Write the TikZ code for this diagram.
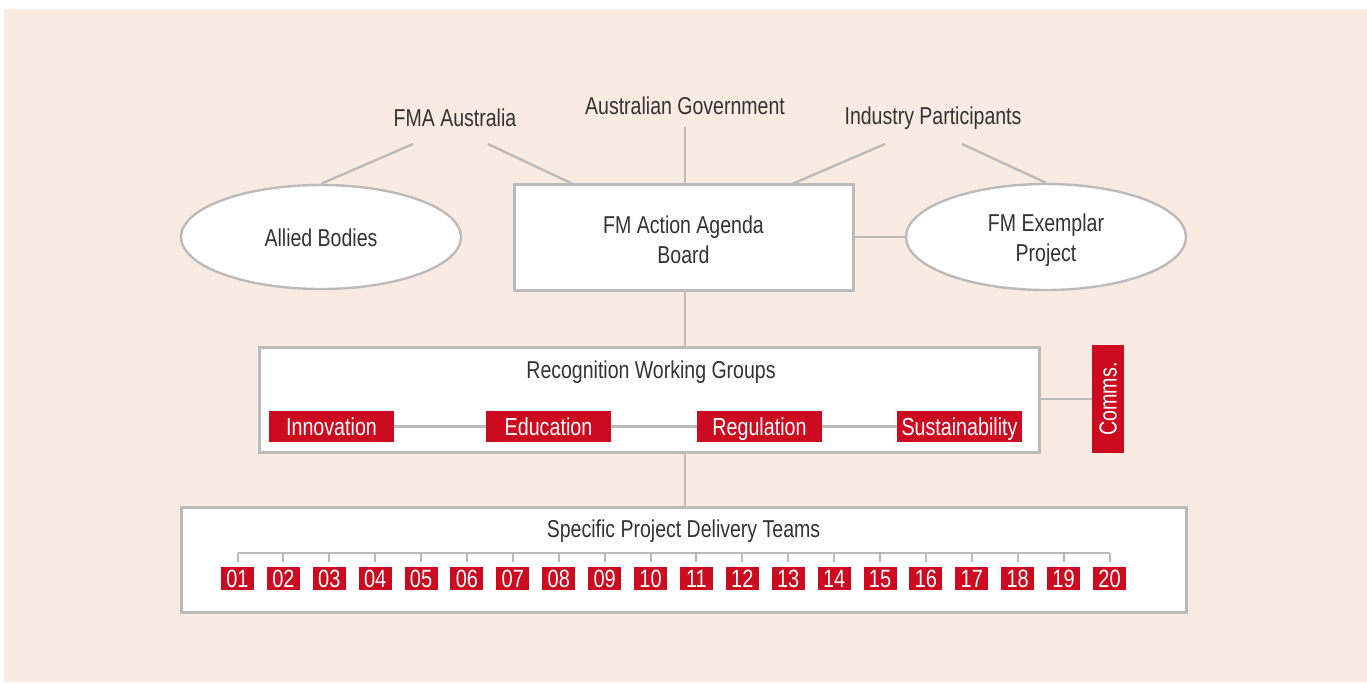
\documentclass[tikz,border=0pt]{standalone}
\usepackage{fontspec}
\setmainfont{Liberation Sans}[FakeStretch=0.8]
\usetikzlibrary{shapes.geometric,calc}
\definecolor{bgc}{HTML}{FAEBE2}
\definecolor{redc}{HTML}{CC0A20}
\definecolor{linec}{HTML}{BBBBBB}
\definecolor{txtc}{HTML}{333333}
\tikzset{
  conn/.style={draw=linec, line width=1.2pt},
  wbox/.style={draw=linec, line width=1.5pt, fill=white, rectangle, inner sep=0pt},
  wellipse/.style={draw=linec, line width=1.2pt, fill=white, ellipse, inner sep=0pt, minimum width=140pt, minimum height=52pt},
  lbl/.style={text=txtc, font=\fontsize{12.2}{15}\selectfont, inner sep=0pt},
  redbox/.style={fill=redc, text=white, inner sep=0pt, minimum width=62.5pt, minimum height=15.5pt, text height=8.6pt, text depth=0pt, font=\fontsize{12.3}{13}\selectfont},
  numbox/.style={fill=redc, text=white, inner sep=0pt, minimum width=16.5pt, minimum height=11.5pt, text height=9pt, text depth=0pt, font=\fontsize{12.5}{13}\selectfont}
}
\begin{document}
\begin{tikzpicture}[x=0.5pt,y=-0.5pt]
\useasboundingbox (0,0) rectangle (1367,682);
\fill[bgc] (4,9) rectangle (1367,682);

% top labels
\node[lbl] (fma) at (455,118) {FMA Australia};
\node[lbl] (gov) at (685,106) {Australian Government};
\node[lbl] (ind) at (933,118) {Industry Participants};

% main shapes
\node[wellipse] (allied) at (321,237) {};
\node[lbl] at (321,238) {Allied Bodies};
\node[wbox, minimum width=169.5pt, minimum height=53pt] (board) at (683.5,237) {};
\node[lbl, align=center] at (683.5,240) {FM Action Agenda\\Board};
\node[wellipse, minimum height=53pt] (exemplar) at (1046,237) {};
\node[lbl, align=center] at (1046,240) {FM Exemplar\\Project};

% connector coordinates
\coordinate (fmaL) at (413,144);
\coordinate (fmaR) at (488,144);
\coordinate (govB) at (685,127);
\coordinate (indL) at (885,144);
\coordinate (indR) at (962,144);
\coordinate (boardTL) at (573,184);
\coordinate (boardTR) at (792,184);
\coordinate (boardTM) at (685,184);

\draw[conn] (fmaL) -- (allied.north);
\draw[conn] (fmaR) -- (boardTL);
\draw[conn] (govB) -- (boardTM);
\draw[conn] (indL) -- (boardTR);
\draw[conn] (indR) -- (exemplar.north);
\draw[conn] (board.east) -- (exemplar.west);

% recognition working groups
\node[wbox, minimum width=390pt, minimum height=52.5pt] (rwg) at (649,399.5) {};
\node[lbl] (rwgt) at (651,372) {Recognition Working Groups};
\draw[conn] (685,290) coordinate (bB) -- (685,347) coordinate (rT);
\node[redbox] (inn) at (331.5,426.5) {Innovation};
\node[redbox] (edu) at (548.5,426.5) {Education};
\node[redbox] (reg) at (759.5,426.5) {Regulation};
\node[redbox] (sus) at (959.5,426.5) {Sustainability};
\draw[conn] (inn.east) -- (edu.west);
\draw[conn] (edu.east) -- (reg.west);
\draw[conn] (reg.east) -- (sus.west);

\node[fill=redc, text=white, inner sep=0pt, rotate=90, minimum width=54pt, minimum height=16pt, text height=8.6pt, text depth=0pt, font=\fontsize{12.3}{13}\selectfont] (comms) at (1108,399) {Comms.};
\draw[conn] (rwg.east |- comms.center) -- (comms.north);

% delivery teams
\node[wbox, minimum width=502.5pt, minimum height=52.5pt] (spdt) at (683.5,559.5) {};
\node[lbl] (spdtt) at (683.5,531) {Specific Project Delivery Teams};
\draw[conn] (685,452) coordinate (rB) -- (685,507) coordinate (sT);

\coordinate (brL) at (237.5,553);
\coordinate (brR) at (1109.5,553);
\draw[draw=linec, line width=1pt] (brL) -- (brR);
\foreach \i in {1,...,20}{
  \pgfmathsetmacro{\xx}{237.5+45.895*(\i-1)}
  \pgfmathtruncatemacro{\ii}{\i}
  \node[numbox] (n\ii) at (\xx,578.5) {\ifnum\ii<10 0\fi\ii};
  \draw[draw=linec, line width=1pt] (\xx,553) -- (\xx,562);
}
\end{tikzpicture}
\end{document}
